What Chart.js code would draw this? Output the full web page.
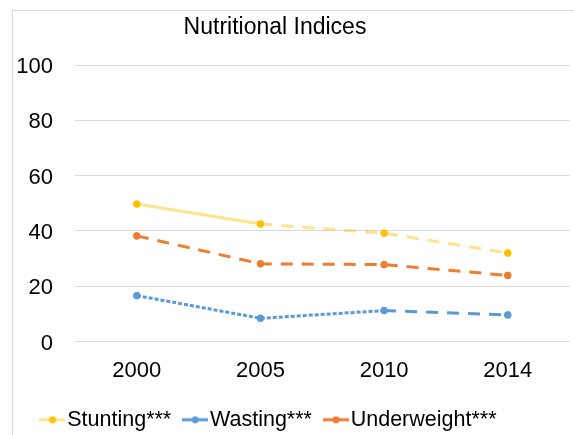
<!DOCTYPE html>
<html>
<head>
<meta charset="utf-8">
<title>Nutritional Indices</title>
<script src="https://cdn.jsdelivr.net/npm/chart.js@4/dist/chart.umd.min.js"></script>
<style>
  html, body { margin: 0; padding: 0; background: #ffffff; }
  #wrap { position: relative; width: 574px; height: 435px; }
</style>
</head>
<body>
<div id="wrap"><canvas id="chart" width="574" height="435"></canvas></div>
<script>
// Survey years and prevalence (%) for each nutritional index
const years = ['2000', '2005', '2010', '2014'];
const stunting = [49.7, 42.5, 39.2, 32.0];
const wasting = [16.6, 8.4, 11.2, 9.6];
const underweight = [38.2, 28.1, 27.8, 23.9];
const seriesNames = ['Stunting***', 'Wasting***', 'Underweight***'];
const yMin = 0, yMax = 100, yStep = 20;

const FONT = '"Liberation Sans", Arial, sans-serif';
const SOLID = [];
const DASH = [12, 9];
const DOT = [4, 2];

// line style of each segment (segment i joins point i and i+1)
const segmentDash = [
  [SOLID, DASH, DASH],
  [DOT, DOT, DASH],
  [DASH, DASH, DASH]
];
const lineColors = ['rgba(255,192,0,0.45)', '#5B9BD5', '#ED7D31'];
const markerColors = ['#FFC000', '#5B9BD5', '#ED7D31'];

// small "line with dot" symbol used in the legend
function legendIcon(lineColor, dotColor) {
  const c = document.createElement('canvas');
  c.width = 26; c.height = 8;
  const g = c.getContext('2d');
  g.strokeStyle = lineColor;
  g.lineWidth = 3;
  g.beginPath(); g.moveTo(0, 4); g.lineTo(26, 4); g.stroke();
  g.fillStyle = dotColor;
  g.beginPath(); g.arc(13, 4, 3.5, 0, Math.PI * 2); g.fill();
  return c;
}
const icons = lineColors.map((c, i) => legendIcon(c, markerColors[i]));

function makeDataset(idx, values) {
  return {
    label: seriesNames[idx],
    data: values,
    borderColor: lineColors[idx],
    backgroundColor: markerColors[idx],
    borderWidth: 3,
    pointRadius: 3.4,
    pointHoverRadius: 3.4,
    pointBackgroundColor: markerColors[idx],
    pointBorderColor: markerColors[idx],
    pointBorderWidth: 1,
    tension: 0,
    fill: false,
    segment: {
      borderDash: ctx => segmentDash[idx][ctx.p0DataIndex]
    }
  };
}

// outer frame of the chart
const frame = {
  id: 'frame',
  beforeDraw(chart) {
    const ctx = chart.ctx;
    ctx.save();
    ctx.strokeStyle = '#d9d9d9';
    ctx.lineWidth = 1;
    ctx.beginPath();
    ctx.moveTo(12.5, chart.height);
    ctx.lineTo(12.5, 10.5);
    ctx.lineTo(chart.width, 10.5);
    ctx.stroke();
    ctx.restore();
  }
};

// title and legend centred on the framed area
const boxPlacement = {
  id: 'boxPlacement',
  afterLayout(chart) {
    const t = chart.titleBlock;
    if (t) { t.left = 0; t.right = 550; t.width = 550; }
    const lg = chart.legend;
    if (lg) {
      const h = lg.height;
      lg.left = 0; lg.right = 545; lg.width = 545;
      lg.top = 389; lg.bottom = 389 + h;
    }
  }
};

new Chart(document.getElementById('chart'), {
  type: 'line',
  data: {
    labels: years,
    datasets: [
      makeDataset(0, stunting),
      makeDataset(1, wasting),
      makeDataset(2, underweight)
    ]
  },
  plugins: [frame, boxPlacement],
  options: {
    responsive: false,
    animation: false,
    devicePixelRatio: 1,
    layout: { padding: { left: 0, right: 0, top: 0, bottom: 0 } },
    plugins: {
      title: {
        display: true,
        text: 'Nutritional Indices',
        color: '#000000',
        font: { family: FONT, size: 23, weight: 'normal' },
        padding: { top: 14, bottom: 23.4 }
      },
      legend: {
        display: true,
        position: 'bottom',
        labels: {
          color: '#000000',
          font: { family: FONT, size: 21.5 },
          usePointStyle: true,
          pointStyleWidth: 8,
          boxHeight: 8,
          padding: 20,
          generateLabels(chart) {
            const items = Chart.defaults.plugins.legend.labels.generateLabels(chart);
            items.forEach((it, i) => { it.pointStyle = icons[i]; });
            return items;
          }
        }
      },
      tooltip: { enabled: false }
    },
    scales: {
      x: {
        offset: true,
        grid: { display: false },
        border: { display: false },
        ticks: { color: '#000000', font: { family: FONT, size: 22 }, padding: 8 },
        afterFit(s) { s.height = 42; }
      },
      y: {
        min: yMin,
        max: yMax,
        grid: { color: '#d9d9d9', lineWidth: 1, drawTicks: false },
        border: { display: false },
        ticks: { stepSize: yStep, color: '#000000', font: { family: FONT, size: 22 }, padding: 22, labelOffset: 2 },
        afterFit(s) { s.width = 75; }
      }
    }
  }
});
</script>
</body>
</html>
